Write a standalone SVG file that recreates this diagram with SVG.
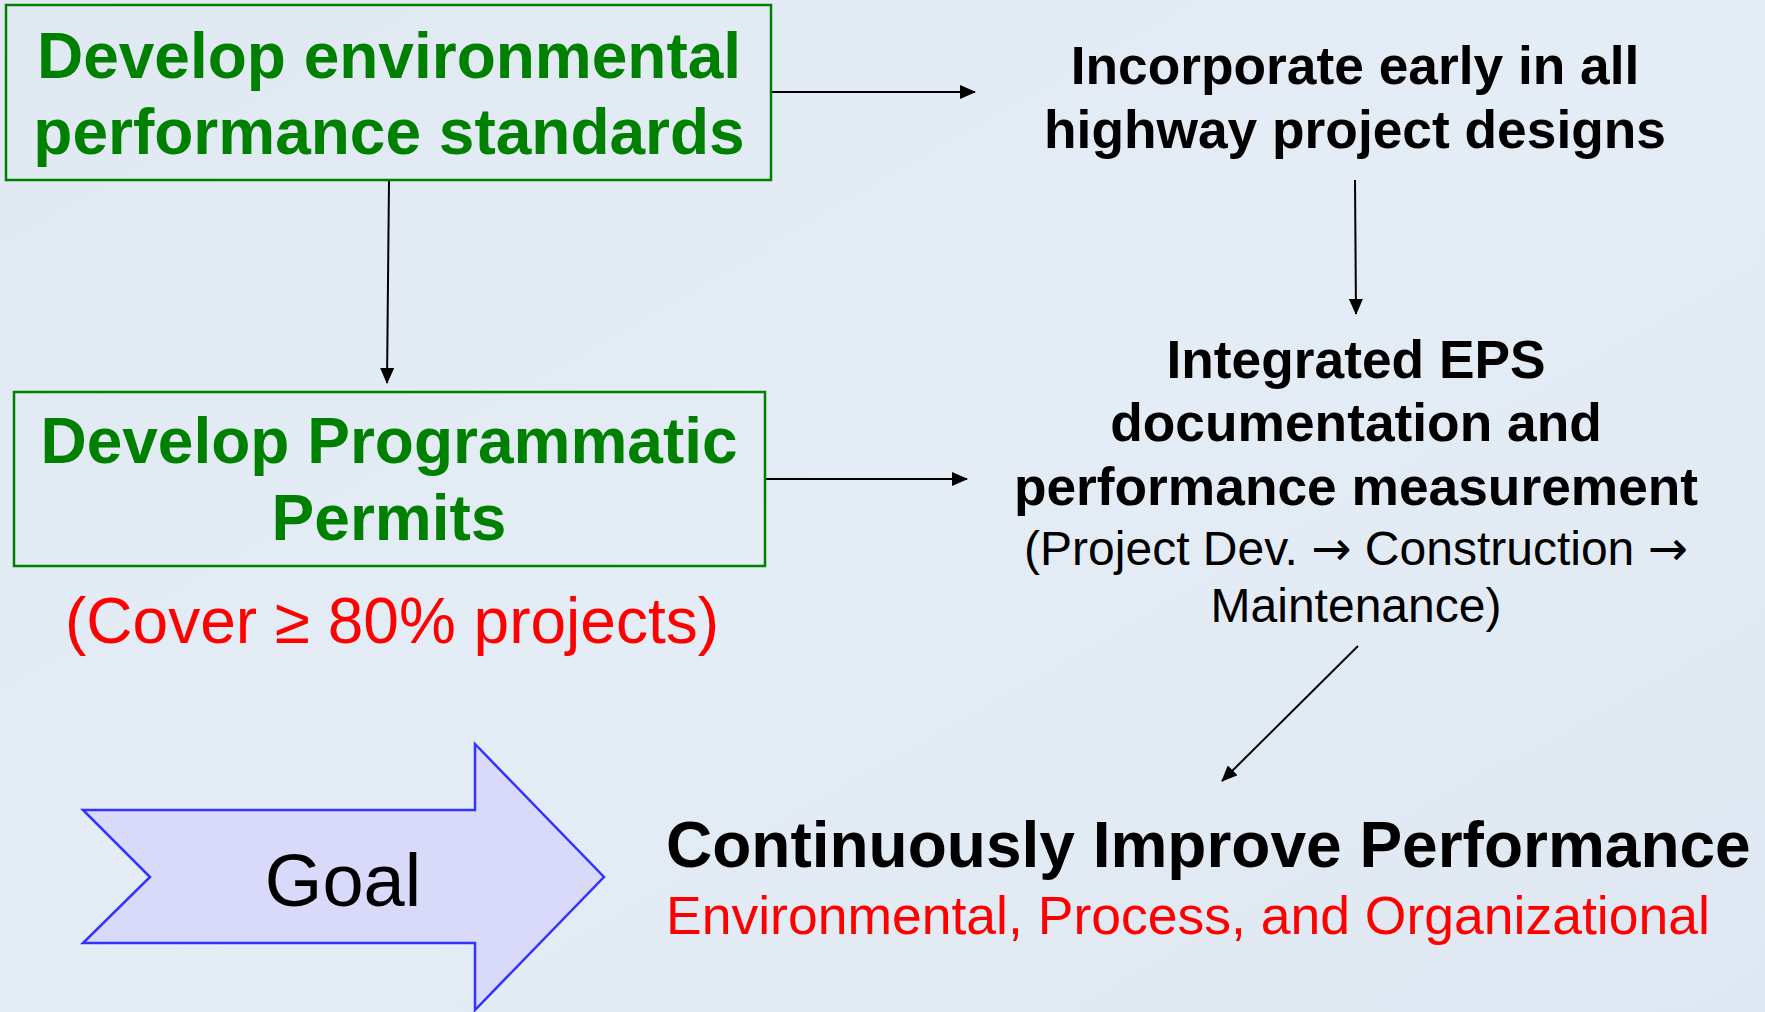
<svg xmlns="http://www.w3.org/2000/svg" width="1765" height="1012" viewBox="0 0 1765 1012">
<defs>
<linearGradient id="bg" x1="0" y1="0" x2="1" y2="1">
<stop offset="0" stop-color="#E0E8F2"/>
<stop offset="0.5" stop-color="#E4ECF5"/>
<stop offset="1" stop-color="#DFE8F2"/>
</linearGradient>
<marker id="ah" markerUnits="userSpaceOnUse" markerWidth="16" markerHeight="14" refX="15" refY="7" orient="auto">
<path d="M0,0 L16,7 L0,14 Z" fill="#000"/>
</marker>
</defs>
<style>
.box{fill:none;stroke:#008000;stroke-width:2.5}
.gt{font-family:"Liberation Sans",Arial,sans-serif;font-weight:bold;font-size:64px;fill:#008000;text-anchor:middle}
.bt{font-family:"Liberation Sans",Arial,sans-serif;font-weight:bold;font-size:53.3px;fill:#000;text-anchor:middle}
.nt{font-family:"Liberation Sans",Arial,sans-serif;font-size:48px;fill:#000;text-anchor:middle}
.ar{font-family:"DejaVu Sans",sans-serif}
.rt{font-family:"Liberation Sans",Arial,sans-serif;fill:#FF0000}
.conn{stroke:#000;stroke-width:2;fill:none;marker-end:url(#ah)}
</style>
<rect width="1765" height="1012" fill="url(#bg)"/>
<g id="connectors">
<line class="conn" x1="772" y1="92" x2="975" y2="92"/>
<line class="conn" x1="389" y1="181" x2="387" y2="383"/>
<line class="conn" x1="1355" y1="180" x2="1356" y2="314"/>
<line class="conn" x1="766" y1="479" x2="967" y2="479"/>
<line class="conn" x1="1358" y1="646" x2="1222" y2="781"/>
</g>
<g id="node-eps-standards">
<rect class="box" x="6" y="5" width="765" height="175"/>
<text class="gt" x="389" y="78">Develop environmental</text>
<text class="gt" x="389" y="154">performance standards</text>
</g>
<g id="node-programmatic-permits">
<rect class="box" x="14" y="392" width="751" height="174"/>
<text class="gt" x="389" y="463">Develop Programmatic</text>
<text class="gt" x="389" y="540">Permits</text>
<text class="rt" x="392" y="643" font-size="64" text-anchor="middle">(Cover ≥ 80% projects)</text>
</g>
<g id="node-incorporate">
<text class="bt" x="1355" y="84">Incorporate early in all</text>
<text class="bt" x="1355" y="148">highway project designs</text>
</g>
<g id="node-integrated">
<text class="bt" x="1356" y="378">Integrated EPS</text>
<text class="bt" x="1356" y="441">documentation and</text>
<text class="bt" x="1356" y="505">performance measurement</text>
<text class="nt" x="1356" y="565">(Project Dev. <tspan class="ar">→</tspan> Construction <tspan class="ar">→</tspan></text>
<text class="nt" x="1356" y="622">Maintenance)</text>
</g>
<g id="node-goal">
<path d="M83,810 L475,810 L475,744 L604,877 L475,1010 L475,943 L83,943 L150,877 Z" fill="#D9D9FA" stroke="#3333FF" stroke-width="2.5"/>
<text x="343" y="906" font-family="Liberation Sans,Arial,sans-serif" font-size="74" fill="#000" text-anchor="middle">Goal</text>
</g>
<g id="node-continuously">
<text x="666" y="867" font-family="Liberation Sans,Arial,sans-serif" font-weight="bold" font-size="64" fill="#000">Continuously Improve Performance</text>
<text class="rt" x="666" y="934" font-size="53.5">Environmental, Process, and Organizational</text>
</g>
</svg>
